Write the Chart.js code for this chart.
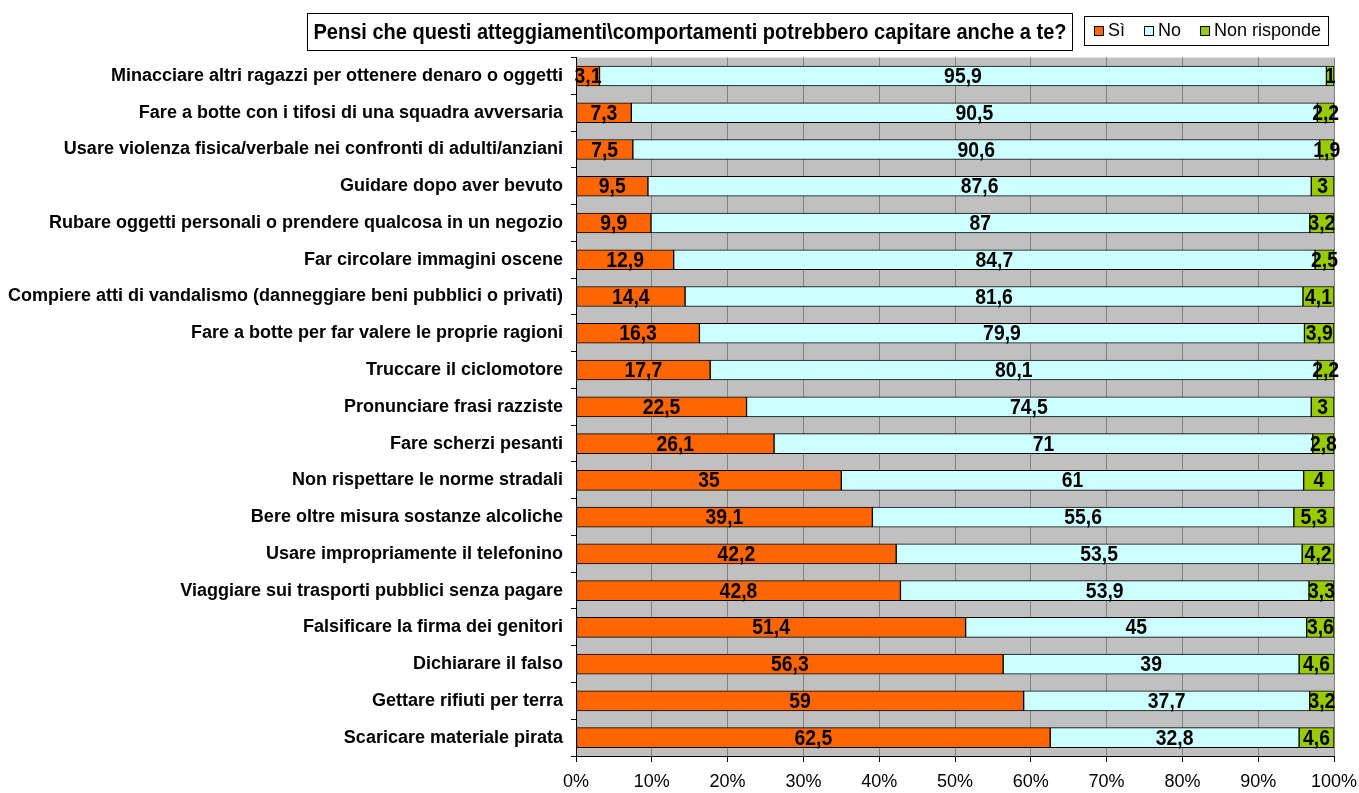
<!DOCTYPE html>
<html><head><meta charset="utf-8">
<script src="https://cdn.jsdelivr.net/npm/chart.js@4/dist/chart.umd.min.js"></script>
<style>html,body{margin:0;padding:0;background:#fff}#wrap{width:1359px;height:793px;position:relative}</style>
</head><body><div id="wrap"><canvas id="c" width="1359" height="793"></canvas></div>
<script>
const categories = [
 "Minacciare altri ragazzi per ottenere denaro o oggetti",
 "Fare a botte con i tifosi di una squadra avversaria",
 "Usare violenza fisica/verbale nei confronti di adulti/anziani",
 "Guidare dopo aver bevuto",
 "Rubare oggetti personali o prendere qualcosa in un negozio",
 "Far circolare immagini oscene",
 "Compiere atti di vandalismo (danneggiare beni pubblici o privati)",
 "Fare a botte per far valere le proprie ragioni",
 "Truccare il ciclomotore",
 "Pronunciare frasi razziste",
 "Fare scherzi pesanti",
 "Non rispettare le norme stradali",
 "Bere oltre misura sostanze alcoliche",
 "Usare impropriamente il telefonino",
 "Viaggiare sui trasporti pubblici senza pagare",
 "Falsificare la firma dei genitori",
 "Dichiarare il falso",
 "Gettare rifiuti per terra",
 "Scaricare materiale pirata"
];
const si = [3.1,7.3,7.5,9.5,9.9,12.9,14.4,16.3,17.7,22.5,26.1,35,39.1,42.2,42.8,51.4,56.3,59,62.5];
const no = [95.9,90.5,90.6,87.6,87,84.7,81.6,79.9,80.1,74.5,71,61,55.6,53.5,53.9,45,39,37.7,32.8];
const nr = [1,2.2,1.9,3,3.2,2.5,4.1,3.9,2.2,3,2.8,4,5.3,4.2,3.3,3.6,4.6,3.2,4.6];
const seriesNames = ["Sì","No","Non risponde"];
const xTicks = [0,10,20,30,40,50,60,70,80,90,100];
const titleText = "Pensi che questi atteggiamenti\\comportamenti potrebbero capitare anche a te?";

const raw = [si, no, nr];
const totals = categories.map((_, i) => si[i] + no[i] + nr[i]);
const pct = raw.map(arr => arr.map((v, i) => v / totals[i] * 100));
const colors = ["#FF6600", "#CCFFFF", "#99CC00"];
const SANS = '"Liberation Sans", Arial, sans-serif';

function narrowText(ctx, text, x, y, sx) {
  ctx.save();
  ctx.translate(x, y);
  ctx.scale(sx, 1);
  ctx.fillText(text, 0, 0);
  ctx.restore();
}

const bgPlugin = {
  id: 'bg',
  beforeDraw(chart) {
    const {ctx, chartArea: a} = chart;
    ctx.save();
    ctx.fillStyle = '#C0C0C0';
    ctx.fillRect(a.left, a.top, a.right - a.left, a.bottom - a.top);
    ctx.restore();
  }
};

const labelPlugin = {
  id: 'vals',
  afterDatasetsDraw(chart) {
    const ctx = chart.ctx;
    ctx.save();
    ctx.font = 'bold 22px ' + SANS;
    ctx.fillStyle = '#000';
    ctx.textAlign = 'center';
    ctx.textBaseline = 'middle';
    chart.data.datasets.forEach((ds, di) => {
      const meta = chart.getDatasetMeta(di);
      meta.data.forEach((bar, i) => {
        const v = raw[di][i];
        const x = (bar.x + bar.base) / 2;
        narrowText(ctx, String(v).replace('.', ','), x, bar.y + 1, 0.88);
      });
    });
    ctx.restore();
  }
};

const boxesPlugin = {
  id: 'boxes',
  afterDraw(chart) {
    const ctx = chart.ctx;
    ctx.save();
    ctx.fillStyle = '#fff';
    ctx.strokeStyle = '#000';
    ctx.lineWidth = 1;
    ctx.fillRect(307.5, 13.5, 765, 37);
    ctx.strokeRect(307.5, 13.5, 765, 37);
    ctx.fillStyle = '#000';
    ctx.font = 'bold 22px ' + SANS;
    ctx.textAlign = 'center';
    ctx.textBaseline = 'middle';
    narrowText(ctx, titleText, 690, 33, 0.91);
    ctx.strokeRect(1084.5, 16.5, 244, 29);
    ctx.font = '18px ' + SANS;
    ctx.textAlign = 'left';
    const items = [[1094, 'Sì'], [1144, 'No'], [1200, 'Non risponde']];
    items.forEach(([x, t], k) => {
      ctx.fillStyle = colors[k];
      ctx.fillRect(x + 0.5, 26.5, 9, 9);
      ctx.strokeRect(x + 0.5, 26.5, 9, 9);
      ctx.fillStyle = '#000';
      narrowText(ctx, t, x + 14, 31.5, 1);
    });
    ctx.restore();
  }
};

new Chart(document.getElementById('c'), {
  type: 'bar',
  data: {
    labels: categories,
    datasets: seriesNames.map((n, k) => ({
      label: n,
      data: pct[k],
      backgroundColor: colors[k],
      borderColor: '#000',
      borderWidth: 1,
      borderSkipped: false,
      barThickness: 20
    }))
  },
  options: {
    indexAxis: 'y',
    responsive: false,
    animation: false,
    layout: { padding: { top: 57.6, right: 25, left: 0, bottom: 0 } },
    plugins: { legend: { display: false }, title: { display: false }, tooltip: { enabled: false } },
    scales: {
      x: {
        stacked: true, min: 0, max: 100,
        afterBuildTicks(s) { s.ticks = xTicks.map(v => ({ value: v })); },
        afterFit(s) { s.height = 37; s.paddingRight = 0; s.paddingLeft = 0; },
        border: { color: '#000', width: 1 },
        grid: { color: '#808080', tickColor: '#000', tickLength: 6, lineWidth: 1 },
        ticks: { callback: v => v + '%', color: '#000', font: { family: SANS, size: 18 }, padding: 9, maxRotation: 0 }
      },
      y: {
        stacked: true,
        afterFit(s) { s.width = 576; },
        border: { color: '#000', width: 1 },
        grid: { offset: true, drawOnChartArea: false, color: '#000', tickLength: 5 },
        ticks: { color: '#000', font: { family: SANS, size: 18, weight: 'bold' }, padding: 8, autoSkip: false }
      }
    }
  },
  plugins: [bgPlugin, labelPlugin, boxesPlugin]
});
</script></body></html>
